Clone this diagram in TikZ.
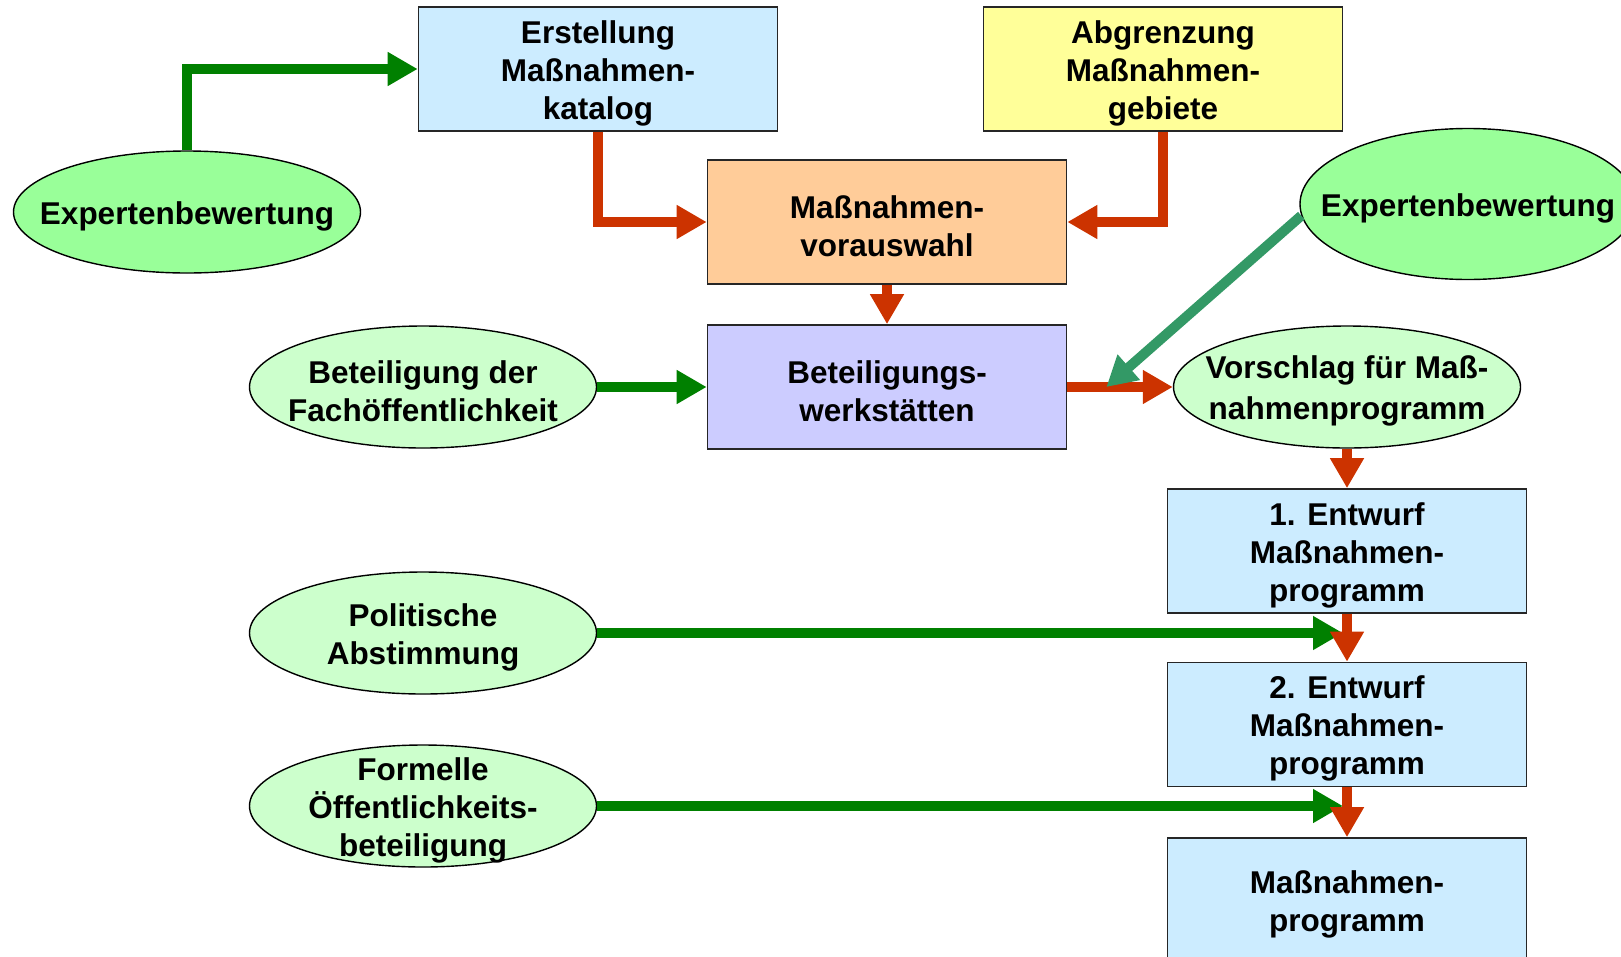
\documentclass[tikz,border=0pt]{standalone}
\usepackage{fontspec}
\setmainfont{Liberation Sans}
\usetikzlibrary{shapes.geometric,arrows.meta,calc}
\definecolor{skyfill}{HTML}{CCECFF}
\definecolor{lemonfill}{HTML}{FFFF99}
\definecolor{peachfill}{HTML}{FFCC99}
\definecolor{lilacfill}{HTML}{CCCCFF}
\definecolor{mintfill}{HTML}{99FF99}
\definecolor{palefill}{HTML}{CCFFCC}
\definecolor{flowred}{HTML}{CC3300}
\definecolor{flowgreen}{HTML}{008000}
\definecolor{flowteal}{HTML}{339966}

\begin{document}
\begin{tikzpicture}%
[x=1pt, y=-1pt,%
font=\fontsize{31.5}{38}\selectfont\bfseries,%
box/.style={draw=black!85, line width=1.6pt, rectangle, minimum width=359pt, minimum height=124pt, inner sep=0pt},%
bubble/.style={draw=black, line width=1.4pt, ellipse, minimum width=347pt, minimum height=122pt, inner sep=0pt},%
btext/.style={align=center, inner sep=0pt, yshift=-4pt},%
flow/.style={line width=10pt, -{Triangle[length=30pt, width=32pt]}},%
red flow/.style={flow, draw=flowred},%
green flow/.style={flow, draw=flowgreen}]
\useasboundingbox (0,0) rectangle (1621,956);
\node[box, fill=skyfill, label={[btext]center:{Erstellung\\Maßnahmen-\\katalog}}] (erst) at (598,69) {};
\node[box, fill=lemonfill, label={[btext]center:{Abgrenzung\\Maßnahmen-\\gebiete}}] (abg) at (1163,69) {};
\node[box, fill=peachfill, label={[btext]center:{Maßnahmen-\\vorauswahl}}] (vor) at (887,222) {};
\node[box, fill=lilacfill, label={[btext]center:{Beteiligungs-\\werkstätten}}] (werk) at (887,387) {};
\node[box, fill=skyfill, label={[btext]center:{1. Entwurf\\Maßnahmen-\\programm}}] (ent1) at (1347,551) {};
\node[box, fill=skyfill, label={[btext]center:{2. Entwurf\\Maßnahmen-\\programm}}] (ent2) at (1347,724.5) {};
\node[box, fill=skyfill, label={[btext]center:{Maßnahmen-\\programm}}] (prog) at (1347,900) {};
\node[bubble, fill=mintfill, label={[btext]center:Expertenbewertung}] (expL) at (187,212) {};
\node[bubble, fill=mintfill, minimum width=336pt, minimum height=151pt, label={[btext]center:Expertenbewertung}] (expR) at (1468,204) {};
\node[bubble, fill=palefill, label={[btext]center:{Beteiligung der\\Fachöffentlichkeit}}] (fach) at (423,387) {};
\node[bubble, fill=palefill, label={[btext]center:{Vorschlag für Maß-\\[3pt]nahmenprogramm}}] (vorschl) at (1347,387) {};
\node[bubble, fill=palefill, label={[btext]center:{Politische\\Abstimmung}}] (polit) at (423,633) {};
\node[bubble, fill=palefill, label={[btext]center:{Formelle\\Öffentlichkeits-\\beteiligung}}] (formell) at (423,806) {};
\coordinate (meet) at ($(werk.east)!0.37!(vorschl.west)$);
\draw[green flow] (expL.north) |- (erst.west);
\draw[green flow] (fach.east) -- (werk.west);
\draw[green flow, shorten >=4pt] (polit.east) -- (polit.east -| ent1.south);
\draw[green flow, shorten >=4pt] (formell.east) -- (formell.east -| ent2.south);
\draw[red flow] (erst.south) |- (vor.west);
\draw[red flow] (abg.south) |- (vor.east);
\draw[red flow] (vor.south) -- (werk.north);
\draw[red flow] (werk.east) -- (vorschl.west);
\draw[red flow] (vorschl.south) -- (ent1.north);
\draw[red flow] (ent1.south) -- (ent2.north);
\draw[red flow] (ent2.south) -- (prog.north);
\draw[flow, draw=flowteal] (expR.184) -- (meet);
\end{tikzpicture}
\end{document}
